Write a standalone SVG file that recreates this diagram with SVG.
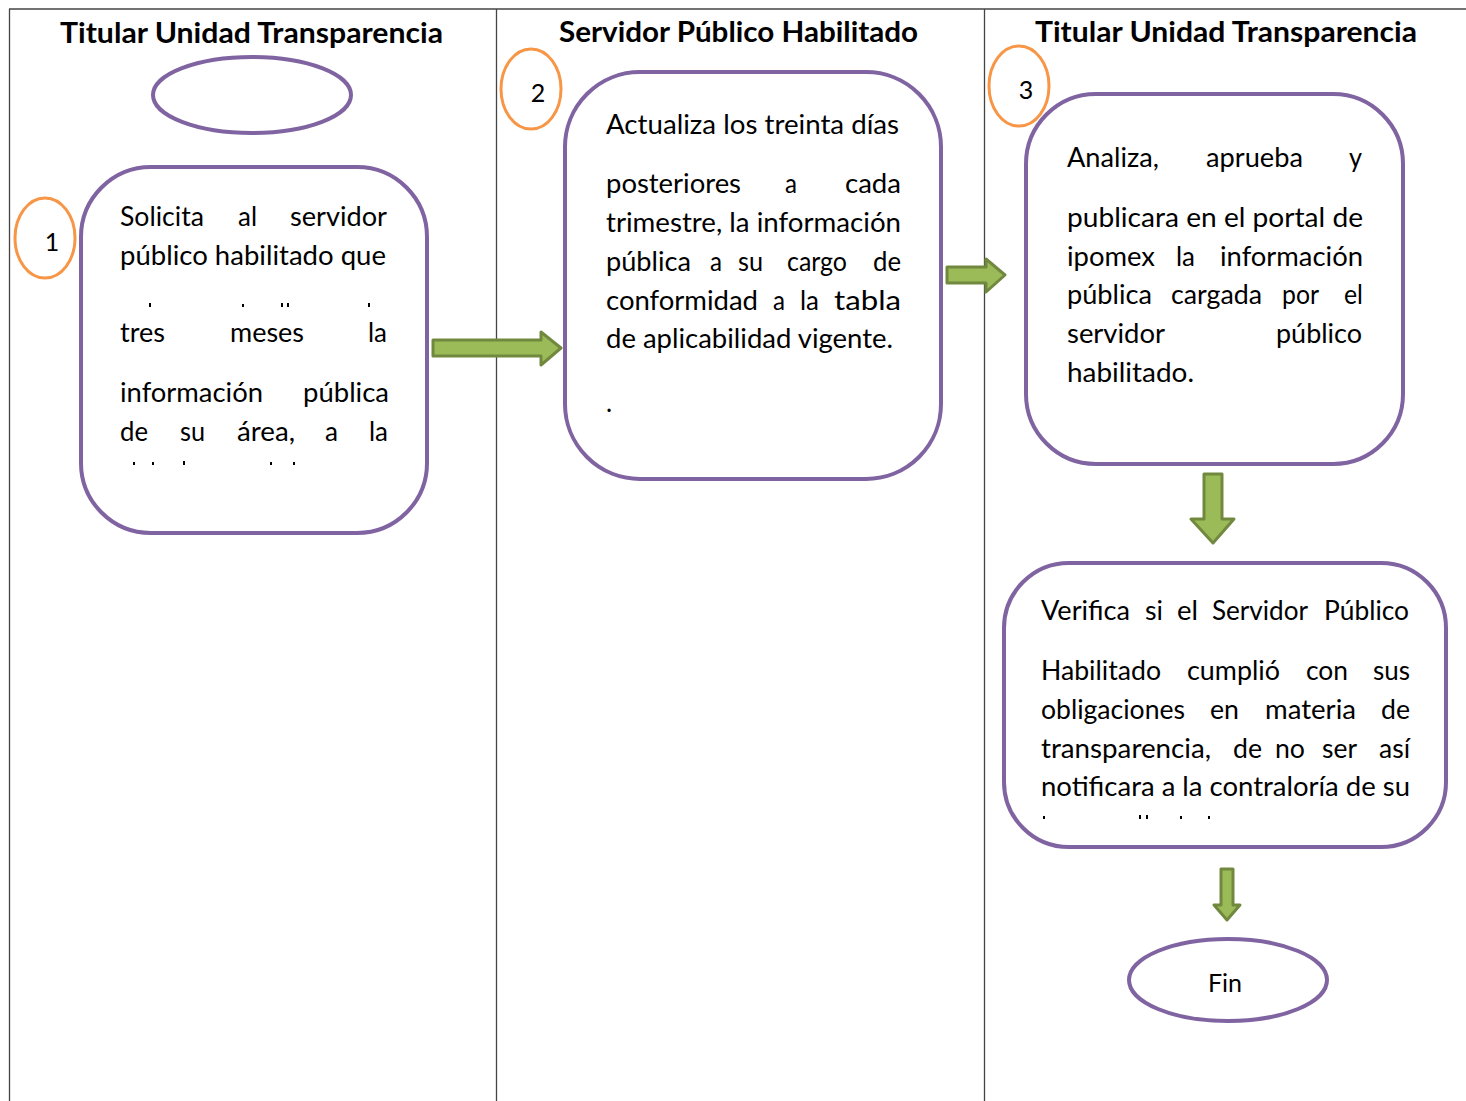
<svg xmlns="http://www.w3.org/2000/svg" width="1466" height="1101" viewBox="0 0 1466 1101">
<style>
.grid{stroke:#444;stroke-width:1.3;fill:none}
.hd{font-family:Lato,"Open Sans","Liberation Sans",sans-serif;font-weight:bold;font-size:28px;fill:#000}
.tx{font-family:Lato,"Open Sans","Liberation Sans",sans-serif;font-size:26px;fill:#000}
.box{fill:#fff;stroke:#8064A2;stroke-width:4}
.num{fill:none;stroke:#F79646;stroke-width:3}
.nt{font-family:Lato,"Open Sans","Liberation Sans",sans-serif;font-size:25px;fill:#000;text-anchor:middle}
.arr{fill:#9BBB59;stroke:#71893F;stroke-width:3;stroke-linejoin:round}
.dot{fill:#000}
</style>
<g id="table">
<line class="grid" x1="9" y1="9" x2="1466" y2="9"/>
<line class="grid" x1="9.5" y1="9" x2="9.5" y2="1101"/>
<line class="grid" x1="496.5" y1="9" x2="496.5" y2="1101"/>
<line class="grid" x1="984.5" y1="9" x2="984.5" y2="1101"/>
<text class="hd" x="60" y="43" textLength="383" lengthAdjust="spacingAndGlyphs">Titular Unidad Transparencia</text>
<text class="hd" x="559" y="42" textLength="359" lengthAdjust="spacingAndGlyphs">Servidor Público Habilitado</text>
<text class="hd" x="1035" y="42" textLength="382" lengthAdjust="spacingAndGlyphs">Titular Unidad Transparencia</text>
</g>
<g id="connectors">
<path class="arr" d="M433,340 H541 V332 L561,348 L541,365 V356 H433 Z"/>
<path class="arr" d="M947,267 H986 V259 L1005,275 L986,292 V283 H947 Z"/>
<path class="arr" d="M1204,474 H1222 V519 H1234 L1213,543 L1191,519 H1204 Z"/>
<path class="arr" d="M1221,869 H1233 V905 H1240 L1227,920 L1214,905 H1221 Z"/>
</g>
<g id="start">
<ellipse class="box" cx="252" cy="95" rx="99" ry="38"/>
</g>
<g id="step1">
<rect class="box" x="81" y="167" width="346" height="366" rx="70"/>
<ellipse class="num" cx="45" cy="238" rx="30" ry="40"/>
<text class="nt" x="52" y="251">1</text>
<text class="tx" x="120" y="226" textLength="84" lengthAdjust="spacingAndGlyphs">Solicita</text>
<text class="tx" x="238" y="226" textLength="19" lengthAdjust="spacingAndGlyphs">al</text>
<text class="tx" x="290" y="226" textLength="97" lengthAdjust="spacingAndGlyphs">servidor</text>
<text class="tx" x="120" y="265" textLength="266" lengthAdjust="spacingAndGlyphs">público habilitado que</text>
<text class="tx" x="120" y="342" textLength="45" lengthAdjust="spacingAndGlyphs">tres</text>
<text class="tx" x="230" y="342" textLength="74" lengthAdjust="spacingAndGlyphs">meses</text>
<text class="tx" x="368" y="342" textLength="19" lengthAdjust="spacingAndGlyphs">la</text>
<text class="tx" x="120" y="402" textLength="143" lengthAdjust="spacingAndGlyphs">información</text>
<text class="tx" x="303" y="402" textLength="86" lengthAdjust="spacingAndGlyphs">pública</text>
<text class="tx" x="120" y="441" textLength="28" lengthAdjust="spacingAndGlyphs">de</text>
<text class="tx" x="180" y="441" textLength="25" lengthAdjust="spacingAndGlyphs">su</text>
<text class="tx" x="237" y="441" textLength="58" lengthAdjust="spacingAndGlyphs">área,</text>
<text class="tx" x="325" y="441" textLength="13" lengthAdjust="spacingAndGlyphs">a</text>
<text class="tx" x="369" y="441" textLength="19" lengthAdjust="spacingAndGlyphs">la</text>
<g class="dot">
<rect x="149" y="303" width="2" height="4"/><rect x="242" y="304" width="2" height="3"/><rect x="281" y="303" width="2" height="4"/><rect x="287" y="303" width="2" height="4"/><rect x="368" y="303" width="2" height="4"/>
<rect x="133" y="462" width="2" height="3"/><rect x="152" y="462" width="2" height="3"/><rect x="183" y="461" width="2" height="4"/><rect x="270" y="462" width="2" height="3"/><rect x="293" y="462" width="2" height="3"/>
</g>
</g>
<g id="step2">
<rect class="box" x="565" y="72" width="376" height="407" rx="75"/>
<ellipse class="num" cx="531" cy="89" rx="30" ry="40"/>
<text class="nt" x="538" y="102">2</text>
<text class="tx" x="606" y="134" textLength="293" lengthAdjust="spacingAndGlyphs">Actualiza los treinta días</text>
<text class="tx" x="606" y="193" textLength="135" lengthAdjust="spacingAndGlyphs">posteriores</text>
<text class="tx" x="785" y="193" textLength="12" lengthAdjust="spacingAndGlyphs">a</text>
<text class="tx" x="845" y="193" textLength="56" lengthAdjust="spacingAndGlyphs">cada</text>
<text class="tx" x="606" y="232" textLength="295" lengthAdjust="spacingAndGlyphs">trimestre, la información</text>
<text class="tx" x="606" y="271" textLength="85" lengthAdjust="spacingAndGlyphs">pública</text>
<text class="tx" x="710" y="271" textLength="12" lengthAdjust="spacingAndGlyphs">a</text>
<text class="tx" x="738" y="271" textLength="25" lengthAdjust="spacingAndGlyphs">su</text>
<text class="tx" x="787" y="271" textLength="60" lengthAdjust="spacingAndGlyphs">cargo</text>
<text class="tx" x="873" y="271" textLength="28" lengthAdjust="spacingAndGlyphs">de</text>
<text class="tx" x="606" y="310" textLength="152" lengthAdjust="spacingAndGlyphs">conformidad</text>
<text class="tx" x="773" y="310" textLength="12" lengthAdjust="spacingAndGlyphs">a</text>
<text class="tx" x="800" y="310" textLength="19" lengthAdjust="spacingAndGlyphs">la</text>
<text class="tx" x="834" y="310" textLength="67" lengthAdjust="spacingAndGlyphs">tabla</text>
<text class="tx" x="606" y="348" textLength="287" lengthAdjust="spacingAndGlyphs">de aplicabilidad vigente.</text>
<text class="tx" x="606" y="412">.</text>
</g>
<g id="step3">
<rect class="box" x="1026" y="94" width="377" height="370" rx="70"/>
<ellipse class="num" cx="1019" cy="86" rx="30" ry="40"/>
<text class="nt" x="1026" y="99">3</text>
<text class="tx" x="1067" y="167" textLength="92" lengthAdjust="spacingAndGlyphs">Analiza,</text>
<text class="tx" x="1206" y="167" textLength="97" lengthAdjust="spacingAndGlyphs">aprueba</text>
<text class="tx" x="1349" y="167" textLength="13" lengthAdjust="spacingAndGlyphs">y</text>
<text class="tx" x="1067" y="227" textLength="296" lengthAdjust="spacingAndGlyphs">publicara en el portal de</text>
<text class="tx" x="1067" y="266" textLength="88" lengthAdjust="spacingAndGlyphs">ipomex</text>
<text class="tx" x="1176" y="266" textLength="19" lengthAdjust="spacingAndGlyphs">la</text>
<text class="tx" x="1220" y="266" textLength="143" lengthAdjust="spacingAndGlyphs">información</text>
<text class="tx" x="1067" y="304" textLength="85" lengthAdjust="spacingAndGlyphs">pública</text>
<text class="tx" x="1171" y="304" textLength="91" lengthAdjust="spacingAndGlyphs">cargada</text>
<text class="tx" x="1282" y="304" textLength="37" lengthAdjust="spacingAndGlyphs">por</text>
<text class="tx" x="1344" y="304" textLength="19" lengthAdjust="spacingAndGlyphs">el</text>
<text class="tx" x="1067" y="343" textLength="98" lengthAdjust="spacingAndGlyphs">servidor</text>
<text class="tx" x="1276" y="343" textLength="86" lengthAdjust="spacingAndGlyphs">público</text>
<text class="tx" x="1067" y="382" textLength="127" lengthAdjust="spacingAndGlyphs">habilitado.</text>
</g>
<g id="step4">
<rect class="box" x="1004" y="563" width="442" height="284" rx="65"/>
<text class="tx" x="1041" y="620" textLength="89" lengthAdjust="spacingAndGlyphs">Verifica</text>
<text class="tx" x="1145" y="620" textLength="18" lengthAdjust="spacingAndGlyphs">si</text>
<text class="tx" x="1177" y="620" textLength="21" lengthAdjust="spacingAndGlyphs">el</text>
<text class="tx" x="1212" y="620" textLength="96" lengthAdjust="spacingAndGlyphs">Servidor</text>
<text class="tx" x="1324" y="620" textLength="85" lengthAdjust="spacingAndGlyphs">Público</text>
<text class="tx" x="1041" y="680" textLength="120" lengthAdjust="spacingAndGlyphs">Habilitado</text>
<text class="tx" x="1187" y="680" textLength="93" lengthAdjust="spacingAndGlyphs">cumplió</text>
<text class="tx" x="1306" y="680" textLength="42" lengthAdjust="spacingAndGlyphs">con</text>
<text class="tx" x="1373" y="680" textLength="37" lengthAdjust="spacingAndGlyphs">sus</text>
<text class="tx" x="1041" y="719" textLength="144" lengthAdjust="spacingAndGlyphs">obligaciones</text>
<text class="tx" x="1210" y="719" textLength="29" lengthAdjust="spacingAndGlyphs">en</text>
<text class="tx" x="1265" y="719" textLength="91" lengthAdjust="spacingAndGlyphs">materia</text>
<text class="tx" x="1381" y="719" textLength="29" lengthAdjust="spacingAndGlyphs">de</text>
<text class="tx" x="1041" y="758" textLength="170" lengthAdjust="spacingAndGlyphs">transparencia,</text>
<text class="tx" x="1233" y="758" textLength="29" lengthAdjust="spacingAndGlyphs">de</text>
<text class="tx" x="1275" y="758" textLength="30" lengthAdjust="spacingAndGlyphs">no</text>
<text class="tx" x="1322" y="758" textLength="35" lengthAdjust="spacingAndGlyphs">ser</text>
<text class="tx" x="1379" y="758" textLength="31" lengthAdjust="spacingAndGlyphs">así</text>
<text class="tx" x="1041" y="796" textLength="369" lengthAdjust="spacingAndGlyphs">notificara a la contraloría de su</text>
<g class="dot">
<rect x="1043" y="816" width="2" height="3"/><rect x="1139" y="815" width="2" height="4"/><rect x="1146" y="815" width="2" height="4"/><rect x="1180" y="816" width="2" height="3"/><rect x="1208" y="816" width="2" height="3"/>
</g>
</g>
<g id="end">
<ellipse class="box" cx="1228" cy="980" rx="99" ry="41"/>
<text class="nt" x="1225" y="992">Fin</text>
</g>
</svg>
